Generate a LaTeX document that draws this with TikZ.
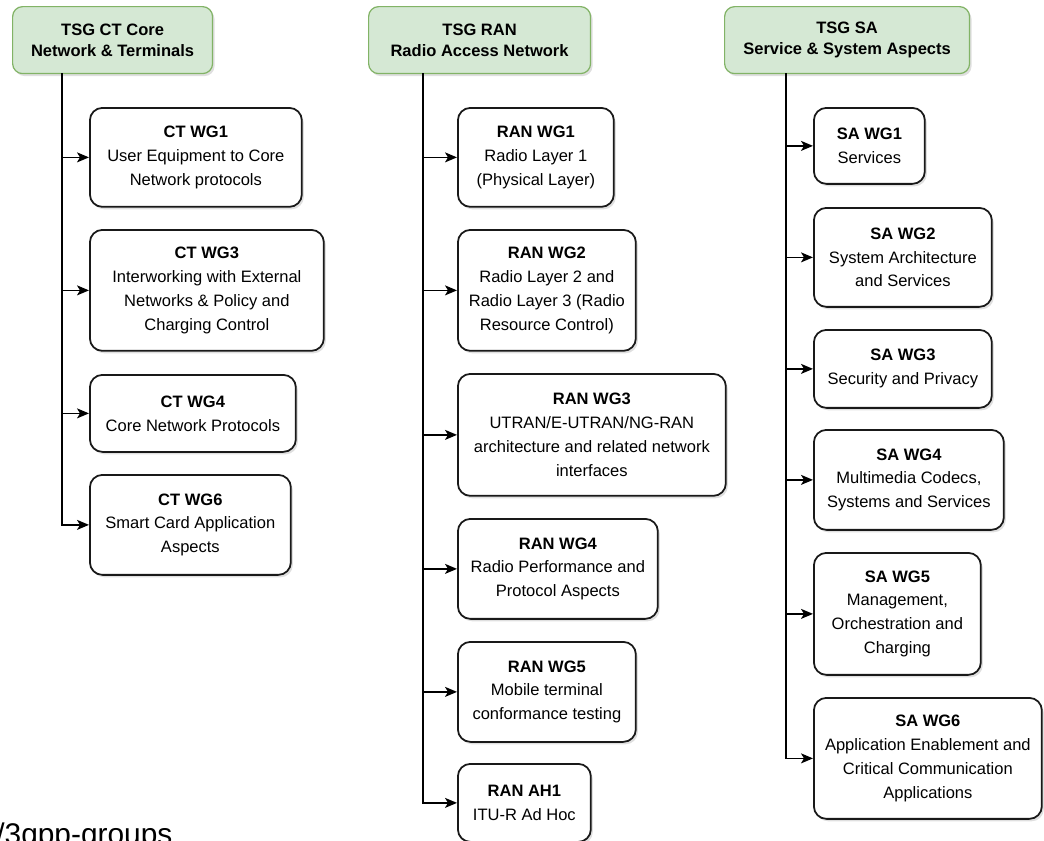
\documentclass[tikz,border=0pt]{standalone}
\usepackage{fontspec}
\setmainfont{Liberation Sans}
\usetikzlibrary{arrows.meta,shadows}
\definecolor{tsgfill}{HTML}{D5E8D4}
\definecolor{tsgline}{HTML}{82B366}

\begin{document}
\begin{tikzpicture}[x=0.02cm,y=-0.02cm,
tsg/.style={draw=tsgline,fill=tsgfill,rounded corners=0.2cm,line width=0.7pt,
    anchor=north west,align=center,inner sep=0pt,
    font=\fontsize{9.4}{11.9}\selectfont\bfseries,
    drop shadow={shadow xshift=0.04cm,shadow yshift=-0.05cm,opacity=0.25}},
wg/.style={draw=black!90,fill=white,rounded corners=0.25cm,line width=1pt,
    anchor=north west,align=center,inner sep=0pt,
    font=\fontsize{9.4}{13.6}\selectfont,
    drop shadow={shadow xshift=0.04cm,shadow yshift=-0.05cm,opacity=0.25}},
link/.style={draw=black,line width=0.75pt,-{Stealth[length=0.24cm,width=0.2cm,inset=0.06cm]}}]
\useasboundingbox (0,0) rectangle (1044,840);
\clip (0,0) rectangle (1044,840);

\node (ctTSG) [tsg,minimum width=4.0cm,minimum height=1.34cm] at (12,6)
    {TSG CT Core\\Network \& Terminals};
\node (ranTSG) [tsg,minimum width=4.44cm,minimum height=1.34cm] at (368,6)
    {TSG RAN\\Radio Access Network};
\node (saTSG) [tsg,minimum width=4.9cm,minimum height=1.34cm] at (724,6)
    {TSG SA\\Service \& System Aspects};

\coordinate (ctbus) at (62,73);
\coordinate (ranbus) at (423,73);
\coordinate (sabus) at (786,73);

\node (ct1) [wg,minimum width=4.24cm,minimum height=1.98cm] at (89,107)
    {\textbf{CT WG1}\\User Equipment to Core\\Network protocols};
\node (ct3) [wg,minimum width=4.68cm,minimum height=2.42cm] at (89,229)
    {\textbf{CT WG3}\\Interworking with External\\Networks \& Policy and\\Charging Control};
\node (ct4) [wg,minimum width=4.12cm,minimum height=1.54cm] at (89,374)
    {\textbf{CT WG4}\\Core Network Protocols};
\node (ct6) [wg,minimum width=4.02cm,minimum height=2.0cm] at (89,474)
    {\textbf{CT WG6}\\Smart Card Application\\Aspects};

\node (ran1) [wg,minimum width=3.12cm,minimum height=1.98cm] at (457,107)
    {\textbf{RAN WG1}\\Radio Layer 1\\(Physical Layer)};
\node (ran2) [wg,minimum width=3.56cm,minimum height=2.42cm] at (457,229)
    {\textbf{RAN WG2}\\Radio Layer 2 and\\Radio Layer 3 (Radio\\Resource Control)};
\node (ran3) [wg,minimum width=5.36cm,minimum height=2.44cm] at (457,373)
    {\textbf{RAN WG3}\\UTRAN/E-UTRAN/NG-RAN\\architecture and related network\\interfaces};
\node (ran4) [wg,minimum width=4.0cm,minimum height=2.0cm] at (457,518)
    {\textbf{RAN WG4}\\Radio Performance and\\Protocol Aspects};
\node (ran5) [wg,minimum width=3.56cm,minimum height=2.0cm] at (457,641)
    {\textbf{RAN WG5}\\Mobile terminal\\conformance testing};
\node (ranah1) [wg,minimum width=2.66cm,minimum height=1.56cm] at (457,763)
    {\textbf{RAN AH1}\\ITU-R Ad Hoc};

\node (sa1) [wg,minimum width=2.22cm,minimum height=1.52cm] at (813,107)
    {\textbf{SA WG1}\\Services};
\node (sa2) [wg,minimum width=3.56cm,minimum height=1.98cm] at (813,207)
    {\textbf{SA WG2}\\System Architecture\\and Services};
\node (sa3) [wg,minimum width=3.56cm,minimum height=1.56cm] at (813,329)
    {\textbf{SA WG3}\\Security and Privacy};
\node (sa4) [wg,minimum width=3.8cm,minimum height=2.0cm] at (813,429)
    {\textbf{SA WG4}\\Multimedia Codecs,\\Systems and Services};
\node (sa5) [wg,minimum width=3.34cm,minimum height=2.44cm] at (813,552)
    {\textbf{SA WG5}\\Management,\\Orchestration and\\Charging};
\node (sa6) [wg,minimum width=4.56cm,minimum height=2.42cm] at (813,697)
    {\textbf{SA WG6}\\Application Enablement and\\Critical Communication\\Applications};

\draw[link] (ctbus) |- (ct1.west);
\draw[link] (ctbus) |- (ct3.west);
\draw[link] (ctbus) |- (ct4.west);
\draw[link] (ctbus) |- (ct6.west);

\draw[link] (ranbus) |- (ran1.west);
\draw[link] (ranbus) |- (ran2.west);
\draw[link] (ranbus) |- (ran3.west);
\draw[link] (ranbus) |- (ran4.west);
\draw[link] (ranbus) |- (ran5.west);
\draw[link] (ranbus) |- (ranah1.west);

\draw[link] (sabus) |- (sa1.west);
\draw[link] (sabus) |- (sa2.west);
\draw[link] (sabus) |- (sa3.west);
\draw[link] (sabus) |- (sa4.west);
\draw[link] (sabus) |- (sa5.west);
\draw[link] (sabus) |- (sa6.west);

\node (src) [anchor=base west,inner sep=0pt,font=\fontsize{17}{20}\selectfont] at (-4,844) {/3gpp-groups};
\end{tikzpicture}
\end{document}
